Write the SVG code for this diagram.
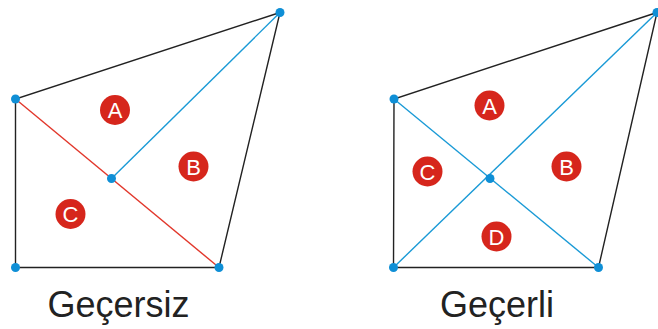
<svg xmlns="http://www.w3.org/2000/svg" width="658" height="329" viewBox="0 0 658 329">
<style>
.edge{fill:none;stroke:#222;stroke-width:1.4}
.blue{fill:none;stroke:#1a9ad6;stroke-width:1.4}
.red{fill:none;stroke:#e2372b;stroke-width:1.4}
.dot{fill:#0f8fd6}
.badge circle{fill:#d6261c}
.badge text{fill:#fff;font-family:"Liberation Sans",Arial,sans-serif;font-size:22px;text-anchor:middle}
.title{fill:#222;font-family:"Liberation Sans",Arial,sans-serif;font-size:36px;text-anchor:middle}
</style>
<rect width="658" height="329" fill="#fff"/>
<g id="connectors">
<polygon class="edge" points="280,12.5 15.5,99 15.5,267.5 219,267.5"/>
<line class="red" x1="15.5" y1="99" x2="219" y2="267.5"/>
<line class="blue" x1="111.5" y1="178.5" x2="280" y2="12.5"/>
<polygon class="edge" points="657,12.5 394,99 393.5,267.5 598.5,267.5"/>
<line class="blue" x1="394" y1="99" x2="598.5" y2="267.5"/>
<line class="blue" x1="393.5" y1="267.5" x2="657" y2="12.5"/>
</g>
<g id="left-nodes">
<circle class="dot" cx="280" cy="12.5" r="4.5"/>
<circle class="dot" cx="15.5" cy="99" r="4.5"/>
<circle class="dot" cx="15.5" cy="267.5" r="4.5"/>
<circle class="dot" cx="219" cy="267.5" r="4.5"/>
<circle class="dot" cx="111.5" cy="178.5" r="4.5"/>
</g>
<g id="right-nodes">
<circle class="dot" cx="657" cy="12.5" r="4.5"/>
<circle class="dot" cx="394" cy="99" r="4.5"/>
<circle class="dot" cx="393.5" cy="267.5" r="4.5"/>
<circle class="dot" cx="598.5" cy="267.5" r="4.5"/>
<circle class="dot" cx="490" cy="178.5" r="4.5"/>
</g>
<g id="label-left-A" class="badge"><circle cx="115" cy="110" r="15"/><text x="115" y="118">A</text></g>
<g id="label-left-B" class="badge"><circle cx="193.5" cy="166.5" r="15"/><text x="193.5" y="174.5">B</text></g>
<g id="label-left-C" class="badge"><circle cx="70.5" cy="214" r="15"/><text x="70.5" y="222">C</text></g>
<g id="label-right-A" class="badge"><circle cx="489.5" cy="105.5" r="15"/><text x="489.5" y="113.5">A</text></g>
<g id="label-right-B" class="badge"><circle cx="566.5" cy="166.5" r="15"/><text x="566.5" y="174.5">B</text></g>
<g id="label-right-C" class="badge"><circle cx="427.5" cy="171.5" r="15"/><text x="427.5" y="179.5">C</text></g>
<g id="label-right-D" class="badge"><circle cx="496.5" cy="236.5" r="15"/><text x="496.5" y="244.5">D</text></g>
<g id="title-left"><text class="title" x="118.5" y="317">Geçersiz</text></g>
<g id="title-right"><text class="title" x="497" y="317">Geçerli</text></g>
</svg>
